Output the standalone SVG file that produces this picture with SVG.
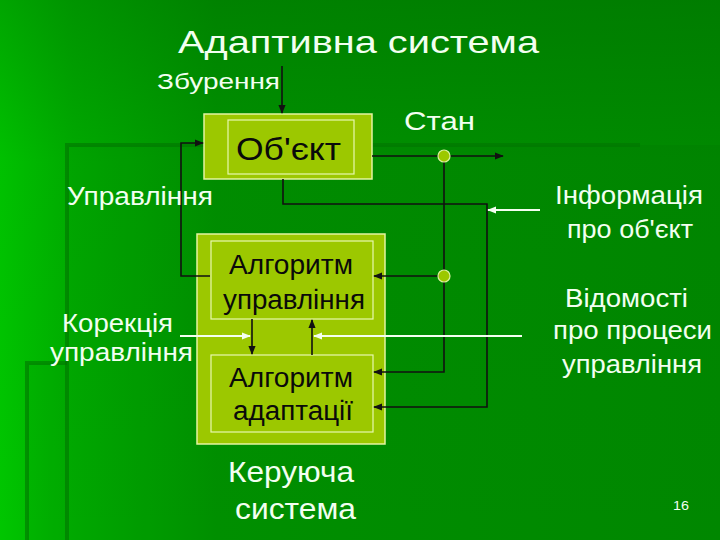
<svg xmlns="http://www.w3.org/2000/svg" width="720" height="540" viewBox="0 0 720 540">
<defs>
<linearGradient id="bgH" x1="0" y1="0" x2="1" y2="0">
<stop offset="0" stop-color="#00C600"/>
<stop offset="0.1" stop-color="#00AE00"/>
<stop offset="0.3" stop-color="#009400"/>
<stop offset="1" stop-color="#008C00"/>
</linearGradient>
<linearGradient id="bgV" x1="0" y1="0" x2="0" y2="1">
<stop offset="0" stop-color="#005800" stop-opacity="0.3"/>
<stop offset="0.3" stop-color="#005800" stop-opacity="0.05"/>
<stop offset="1" stop-color="#005800" stop-opacity="0"/>
</linearGradient>
<marker id="ab" viewBox="0 0 10 10" refX="9" refY="5" markerWidth="9" markerHeight="9" markerUnits="userSpaceOnUse" orient="auto">
<path d="M0,1 L10,5 L0,9 z" fill="#111"/>
</marker>
<marker id="aw" viewBox="0 0 10 10" refX="9" refY="5" markerWidth="9" markerHeight="9" markerUnits="userSpaceOnUse" orient="auto">
<path d="M0,1 L10,5 L0,9 z" fill="#F4FFF0"/>
</marker>
<style>
.t{font-family:"Liberation Sans",Arial,sans-serif;fill:#F2FFF0}
.d{font-family:"Liberation Sans",Arial,sans-serif;fill:#0A0A0A}
.box{fill:#9CC800;stroke:#E4F4A0;stroke-width:1.5}
.in{fill:#9CC800;stroke:#E8F8B0;stroke-width:1.2}
.c{fill:none;stroke:#111;stroke-width:1.6}
.w{fill:none;stroke:#F4FFF0;stroke-width:2}
.dot{fill:#9CC800;stroke:#DDF0A0;stroke-width:1.2}
.deco{stroke:#007400;stroke-width:4;fill:none;opacity:0.6}
</style>
</defs>
<g id="background">
<rect x="0" y="0" width="720" height="540" fill="url(#bgH)"/>
<rect x="0" y="0" width="720" height="540" fill="url(#bgV)"/>
<rect x="67" y="145" width="653" height="395" fill="#000" opacity="0.03"/>
<rect x="27" y="363" width="40" height="177" fill="#000" opacity="0.04"/>
<path class="deco" d="M67,540 V145 H640"/>
<path class="deco" d="M27,540 V363 H67"/>
</g>
<text class="t" x="178" y="53" font-size="32" textLength="361" lengthAdjust="spacingAndGlyphs">Адаптивна система</text>
<g id="object">
<rect class="box" x="204" y="114" width="168" height="65"/>
<rect class="in" x="228" y="120" width="126" height="54"/>
<text class="d" x="236" y="160" font-size="32" textLength="105" lengthAdjust="spacingAndGlyphs">Об'єкт</text>
</g>
<g id="control-system">
<rect class="box" x="197" y="234" width="188" height="210"/>
</g>
<g id="algo-control">
<rect class="in" x="211" y="241" width="162" height="78"/>
<text class="d" x="229" y="274" font-size="27" textLength="124" lengthAdjust="spacingAndGlyphs">Алгоритм</text>
<text class="d" x="223" y="309" font-size="27" textLength="142" lengthAdjust="spacingAndGlyphs">управління</text>
</g>
<g id="algo-adapt">
<rect class="in" x="211" y="355" width="162" height="77"/>
<text class="d" x="229" y="387" font-size="27" textLength="124" lengthAdjust="spacingAndGlyphs">Алгоритм</text>
<text class="d" x="233" y="420" font-size="27" textLength="120" lengthAdjust="spacingAndGlyphs">адаптації</text>
</g>
<g id="connectors">
<path class="c" d="M282,66 V113" marker-end="url(#ab)"/>
<path class="c" d="M210,276 H181 V143 H203" marker-end="url(#ab)"/>
<path class="c" d="M372,156 H503" marker-end="url(#ab)"/>
<path class="c" d="M444,156 V372 H374" marker-end="url(#ab)"/>
<path class="c" d="M444,276 H374" marker-end="url(#ab)"/>
<path class="c" d="M283,179 V204 H487 V407 H374" marker-end="url(#ab)"/>
<path class="c" d="M252,319 V354" marker-end="url(#ab)"/>
<path class="c" d="M312,355 V320" marker-end="url(#ab)"/>
<path class="w" d="M540,210 H488" marker-end="url(#aw)"/>
<path class="w" d="M180,336 H250" marker-end="url(#aw)"/>
<path class="w" d="M522,336 H314" marker-end="url(#aw)"/>
<circle class="dot" cx="444" cy="156" r="6"/>
<circle class="dot" cx="444" cy="276" r="6"/>
</g>
<g id="labels">
<text class="t" x="157" y="89" font-size="22" textLength="123" lengthAdjust="spacingAndGlyphs">Збурення</text>
<text class="t" x="404" y="130" font-size="26" textLength="71" lengthAdjust="spacingAndGlyphs">Стан</text>
<text class="t" x="67" y="205" font-size="25" textLength="146" lengthAdjust="spacingAndGlyphs">Управління</text>
<text class="t" x="62" y="332" font-size="25" textLength="111" lengthAdjust="spacingAndGlyphs">Корекція</text>
<text class="t" x="50" y="361" font-size="25" textLength="143" lengthAdjust="spacingAndGlyphs">управління</text>
<text class="t" x="555" y="204" font-size="25" textLength="148" lengthAdjust="spacingAndGlyphs">Інформація</text>
<text class="t" x="567" y="238" font-size="25" textLength="126" lengthAdjust="spacingAndGlyphs">про об'єкт</text>
<text class="t" x="565" y="307" font-size="25" textLength="123" lengthAdjust="spacingAndGlyphs">Відомості</text>
<text class="t" x="553" y="339" font-size="25" textLength="159" lengthAdjust="spacingAndGlyphs">про процеси</text>
<text class="t" x="562" y="373" font-size="25" textLength="140" lengthAdjust="spacingAndGlyphs">управління</text>
<text class="t" x="228" y="482" font-size="29" textLength="126" lengthAdjust="spacingAndGlyphs">Керуюча</text>
<text class="t" x="235" y="519" font-size="29" textLength="121" lengthAdjust="spacingAndGlyphs">система</text>
<text class="t" x="673" y="510" font-size="12" textLength="16" lengthAdjust="spacingAndGlyphs">16</text>
</g>
</svg>
